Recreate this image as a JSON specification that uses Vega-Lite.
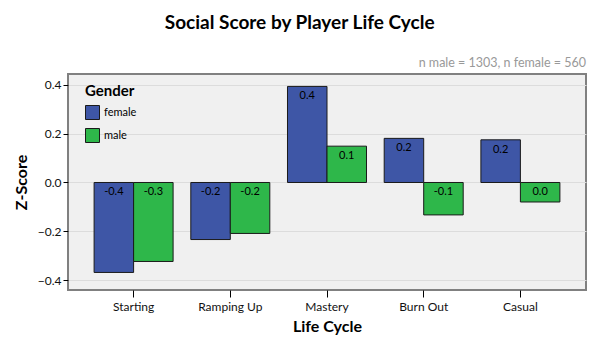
{
  "$schema": "https://vega.github.io/schema/vega-lite/v6.json",
  "background": "white",
  "padding": {"left": 12, "top": 13, "right": 12, "bottom": 5},
  "title": {"text": "Social Score by Player Life Cycle", "anchor": "middle", "fontSize": 19, "fontWeight": "bold", "font": "Lato", "color": "#000000", "offset": 23},
  "vconcat": [
    {
      "width": 518,
      "height": 216,
      "title": {"text": "n male = 1303, n female = 560", "anchor": "end", "fontSize": 12.5, "fontWeight": "normal", "color": "#999999", "font": "Lato", "offset": 5},
      "data": {
        "values": [
          {"cycle": "Starting", "gender": "female", "value": -0.369, "label": "-0.4"},
          {"cycle": "Starting", "gender": "male", "value": -0.324, "label": "-0.3"},
          {"cycle": "Ramping Up", "gender": "female", "value": -0.234, "label": "-0.2"},
          {"cycle": "Ramping Up", "gender": "male", "value": -0.209, "label": "-0.2"},
          {"cycle": "Mastery", "gender": "female", "value": 0.394, "label": "0.4"},
          {"cycle": "Mastery", "gender": "male", "value": 0.149, "label": "0.1"},
          {"cycle": "Burn Out", "gender": "female", "value": 0.181, "label": "0.2"},
          {"cycle": "Burn Out", "gender": "male", "value": -0.133, "label": "-0.1"},
          {"cycle": "Casual", "gender": "female", "value": 0.175, "label": "0.2"},
          {"cycle": "Casual", "gender": "male", "value": -0.080, "label": "0.0"}
        ]
      },
      "encoding": {
        "x": {
          "field": "cycle", "type": "nominal",
          "sort": ["Starting", "Ramping Up", "Mastery", "Burn Out", "Casual"],
          "scale": {"paddingInner": 0.183, "paddingOuter": 0.27},
          "axis": {"title": "Life Cycle", "labelAngle": 0, "labelFontSize": 12, "labelColor": "#111111", "titleFontSize": 16, "titleFontWeight": "bold", "titleColor": "#000000", "tickColor": "#000000", "tickSize": 7, "domain": false, "grid": false, "labelPadding": 4, "titlePadding": 6}
        },
        "xOffset": {"field": "gender", "type": "nominal", "sort": ["female", "male"], "scale": {"paddingInner": 0, "paddingOuter": 0}}
      },
      "layer": [
        {
          "mark": {"type": "bar", "stroke": "#1a1a1a", "strokeWidth": 1},
          "encoding": {
            "y": {
              "field": "value", "type": "quantitative",
              "scale": {"domain": [-0.441, 0.445], "nice": false, "zero": false},
              "axis": {"title": "Z-Score", "values": [-0.4, -0.2, 0, 0.2, 0.4], "format": ".1f", "labelFontSize": 12, "labelColor": "#111111", "titleFontSize": 16, "titleFontWeight": "bold", "titleColor": "#000000", "tickColor": "#000000", "tickSize": 5, "domain": false, "grid": true, "gridColor": "#dcdcdc", "labelPadding": 2, "titlePadding": 8}
            },
            "color": {
              "field": "gender", "type": "nominal",
              "scale": {"domain": ["female", "male"], "range": ["#3e56a6", "#2eb74a"]},
              "legend": {"title": "Gender", "orient": "none", "legendX": 17, "legendY": 10, "titleFontSize": 15, "titleFontWeight": "bold", "titleColor": "#000000", "labelFontSize": 11, "labelColor": "#000000", "symbolType": "square", "symbolSize": 196, "symbolStrokeColor": "#1a1a1a", "symbolStrokeWidth": 1, "rowPadding": 4, "titlePadding": 6}
            }
          }
        },
        {
          "transform": [{"calculate": "max(datum.value, 0)", "as": "labelPos"}],
          "mark": {"type": "text", "baseline": "top", "dy": 4, "fontSize": 11, "color": "#000000"},
          "encoding": {
            "y": {"field": "labelPos", "type": "quantitative"},
            "text": {"field": "label"}
          }
        },
        {
          "mark": {"type": "rule", "color": "#000000", "strokeWidth": 1},
          "encoding": {"y": {"datum": 0}}
        }
      ]
    }
  ],
  "config": {
    "font": "Lato",
    "view": {"fill": "#f0f0f0", "stroke": "#808080", "strokeWidth": 2},
    "concat": {"spacing": 0}
  }
}
